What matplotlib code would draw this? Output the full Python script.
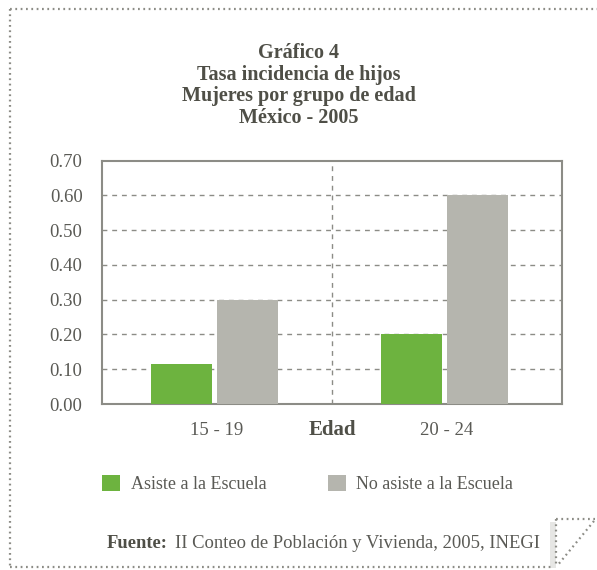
import matplotlib
matplotlib.use("Agg")
import numpy as np
from matplotlib import pyplot as plt
from matplotlib.lines import Line2D
from matplotlib.patches import Polygon

# datos
grupos = ["15 - 19", "20 - 24"]
asiste = [0.115, 0.20]
no_asiste = [0.30, 0.60]
series = ["Asiste a la Escuela", "No asiste a la Escuela"]
yticks = [0.0, 0.1, 0.2, 0.3, 0.4, 0.5, 0.6, 0.7]

verde = "#6db33f"
gris = "#b5b5ae"
texto = "#4f4f47"
borde = "#8c8c86"
serif = ["Liberation Serif", "DejaVu Serif"]

fig = plt.figure(figsize=(5.97, 5.70), dpi=100)
ax = fig.add_axes([0.1709, 0.2912, 0.7705, 0.4269])

x = np.arange(len(grupos))
w = 0.265
b1 = ax.bar(x - 0.155, asiste, w, color=verde, zorder=3)
b2 = ax.bar(x + 0.133, no_asiste, w, color=gris, zorder=3)

ax.set_xlim(-0.5, 1.5)
ax.set_ylim(0, 0.7)
ax.set_yticks(yticks)
ax.set_yticklabels([f"{v:.2f}" for v in yticks], fontsize=13.5, color="#5a5a55",
                   family=serif)
ax.set_xticks(x)
ax.set_xticklabels(grupos, fontsize=13.5, color="#5a5a55", family=serif)
ax.tick_params(length=0, pad=14)
ax.tick_params(axis="x", pad=13)
for s in ax.spines.values():
    s.set_color(borde)
    s.set_linewidth(1.5)
for v in yticks[1:-1]:
    ax.axhline(v, color="#8c8c86", lw=1, ls=(0, (3.5, 3.5)), zorder=1)
ax.axvline(0.5, color="#8c8c86", lw=1, ls=(0, (3.5, 3.5)), zorder=1)

ax.text(0.5, -0.105, "Edad", transform=ax.get_xaxis_transform(), ha="center", va="center",
        fontsize=15, fontweight="bold", color=texto, family=serif)

fig.text(0.5, 0.924,
         "Gráfico 4\nTasa incidencia de hijos\nMujeres por grupo de edad\nMéxico - 2005",
         ha="center", va="top", fontsize=14.5, fontweight="bold", color=texto,
         family=serif, linespacing=1.1)

fig.legend([b1, b2], series, loc="center left", bbox_to_anchor=(0.143, 0.151), ncol=2,
           frameon=False, handlelength=1.0, handleheight=1.0, handletextpad=0.6,
           columnspacing=3.4, prop={"family": serif, "size": 13},
           labelcolor="#5a5a55")

fig.text(0.179, 0.047, "Fuente:", fontsize=13.3, fontweight="bold", color=texto,
         family=serif, va="center")
fig.text(0.293, 0.047, "II Conteo de Población y Vivienda, 2005, INEGI", fontsize=13.4,
         color="#5a5a55", family=serif, va="center")

# marco punteado y esquina doblada
pt = dict(color="#8c8c86", lw=1.6, ls=(0, (0.8, 1.6)), transform=fig.transFigure)
W, H = 597.0, 570.0
fig.add_artist(Line2D([10 / W, 1.0], [1 - 9 / H, 1 - 9 / H], **pt))
fig.add_artist(Line2D([10 / W, 10 / W], [1 - 9 / H, 1 - 567 / H], **pt))
fig.add_artist(Line2D([10 / W, 553 / W], [1 - 567 / H, 1 - 567 / H], **pt))
fig.add_artist(Polygon([[550 / W, 1 - 522 / H], [556 / W, 1 - 522 / H], [556 / W, 1 - 568 / H],
                        [550 / W, 1 - 568 / H]], closed=True, color="#e6e6e4",
                       transform=fig.transFigure, lw=0))
fig.add_artist(Line2D([556 / W, 595 / W], [1 - 519 / H, 1 - 519 / H], **pt))
fig.add_artist(Line2D([556 / W, 556 / W], [1 - 519 / H, 1 - 567 / H], **pt))
fig.add_artist(Line2D([594 / W, 557 / W], [1 - 521 / H, 1 - 566 / H], **pt))

fig.savefig("out.png", dpi=100)
